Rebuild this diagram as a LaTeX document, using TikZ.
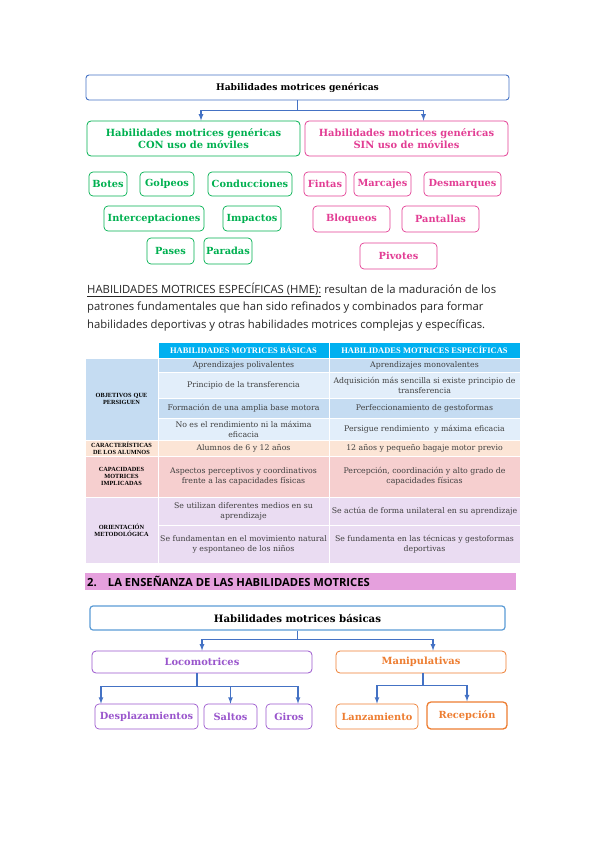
\documentclass[tikz,border=0pt]{standalone}
\usepackage{fontspec}
\setmainfont{Liberation Serif}
\setsansfont{Open Sans}
\newfontfamily\slabfont{DejaVu Serif}
\usepackage{tikz}
\usetikzlibrary{arrows}

\definecolor{linkblue}{RGB}{68,114,196}
\definecolor{frameblue}{RGB}{91,155,213}
\definecolor{congreen}{RGB}{0,176,80}
\definecolor{sinpink}{RGB}{226,62,148}
\definecolor{locopurple}{RGB}{153,85,204}
\definecolor{maniorange}{RGB}{237,125,49}
\definecolor{headcyan}{RGB}{0,176,240}
\definecolor{objdark}{RGB}{197,220,242}
\definecolor{objlight}{RGB}{226,238,250}
\definecolor{carpeach}{RGB}{252,229,214}
\definecolor{cappink}{RGB}{246,207,207}
\definecolor{orilav}{RGB}{234,220,242}
\definecolor{barpink}{RGB}{229,160,221}

\begin{document}
\begin{tikzpicture}[x=1pt, y=-1pt,
every node/.style={shape=rectangle, align=center, inner sep=0pt, color=black!85},
link/.style={draw=linkblue, line width=1.2pt, -latex},
topbox/.style={draw=linkblue, line width=0.9pt, rounded corners=3pt, text=black,
  font=\slabfont\bfseries\fontsize{9.2}{11}\selectfont},
halfbox/.style={draw=#1, line width=0.8pt, rounded corners=4pt, text=#1,
  font=\slabfont\bfseries\fontsize{9.9}{12}\selectfont},
smallbox/.style={draw=#1, line width=0.7pt, rounded corners=4pt, text=#1,
  font=\slabfont\bfseries\fontsize{9.8}{11}\selectfont},
prose/.style={anchor=west, text=black!85, font=\sffamily\fontsize{11.3}{13}\selectfont},
cell/.style={fill=#1, draw=white, line width=0.8pt, text=black!75,
  font=\slabfont\fontsize{7.8}{10}\selectfont},
rowhead/.style={fill=#1, draw=white, line width=0.8pt, text=black,
  font=\bfseries\fontsize{6.3}{7}\selectfont},
colhead/.style={fill=headcyan, draw=white, line width=0.8pt, text=white,
  font=\bfseries\fontsize{8.5}{9}\selectfont}]
\useasboundingbox (0,0) rectangle (599,848);
%
% genericas
\node[topbox, minimum width=423pt, minimum height=25pt] (gen) at (297.5,87.5) {Habilidades motrices genéricas};
\node[halfbox=congreen, minimum width=213pt, minimum height=35pt] (con) at (193.5,138.5) {Habilidades motrices genéricas\\CON uso de móviles};
\node[halfbox=sinpink, minimum width=203pt, minimum height=35pt] (sin) at (406.5,138.5) {Habilidades motrices genéricas\\SIN uso de móviles};
\draw[link] (gen.south) -- ++(0,10) -| ([xshift=7.5pt]con.north);
\draw[link] (gen.south) -- ++(0,10) -| ([xshift=17pt]sin.north);
%
\node[smallbox=congreen, minimum width=38pt, minimum height=24pt] (botes) at (108,184) {Botes};
\node[smallbox=congreen, minimum width=54pt, minimum height=24pt] (golpeos) at (167,184) {Golpeos};
\node[smallbox=congreen, minimum width=84pt, minimum height=24pt] (conducciones) at (250,184) {Conducciones};
\node[smallbox=congreen, minimum width=100pt, minimum height=25pt] (interceptaciones) at (154,218.5) {Interceptaciones};
\node[smallbox=congreen, minimum width=58pt, minimum height=25pt] (impactos) at (252,218.5) {Impactos};
\node[smallbox=congreen, minimum width=47pt, minimum height=26pt] (pases) at (170.5,251) {Pases};
\node[smallbox=congreen, minimum width=48pt, minimum height=26pt] (paradas) at (228,251) {Paradas};
%
\node[smallbox=sinpink, minimum width=42pt, minimum height=24pt] (fintas) at (325,184) {Fintas};
\node[smallbox=sinpink, minimum width=57pt, minimum height=24pt] (marcajes) at (382.5,184) {Marcajes};
\node[smallbox=sinpink, minimum width=77pt, minimum height=24pt] (desmarques) at (462.5,184) {Desmarques};
\node[smallbox=sinpink, minimum width=77pt, minimum height=26pt] (bloqueos) at (351.5,219) {Bloqueos};
\node[smallbox=sinpink, minimum width=77pt, minimum height=26pt] (pantallas) at (440.5,219) {Pantallas};
\node[smallbox=sinpink, minimum width=77pt, minimum height=26pt] (pivotes) at (398.5,256) {Pivotes};
%
% HME
\node[prose] (hme1) at (87,290) {\underline{HABILIDADES MOTRICES ESPECÍFICAS (HME):} resultan de la maduración de los};
\node[prose] (hme2) at (87,308) {patrones fundamentales que han sido refinados y combinados para formar};
\node[prose] (hme3) at (87,326) {habilidades deportivas y otras habilidades motrices complejas y específicas.};
%
% tabla
\node[colhead, minimum width=171pt, minimum height=16pt] (hbas) at (243.5,350) {HABILIDADES MOTRICES BÁSICAS};
\node[colhead, minimum width=191pt, minimum height=16pt] (hesp) at (424.5,350) {HABILIDADES MOTRICES ESPECÍFICAS};
%
\node[rowhead=objdark, minimum width=73pt, minimum height=82pt, text width=69pt] (obj) at (121.5,399) {OBJETIVOS QUE\\PERSIGUEN};
\node[cell=objdark, minimum width=171pt, minimum height=14pt] (obj1b) at (243.5,365) {Aprendizajes polivalentes};
\node[cell=objdark, minimum width=191pt, minimum height=14pt] (obj1e) at (424.5,365) {Aprendizajes monovalentes};
\node[cell=objlight, minimum width=171pt, minimum height=26pt] (obj2b) at (243.5,385) {Principio de la transferencia};
\node[cell=objlight, minimum width=191pt, minimum height=26pt] (obj2e) at (424.5,385) {Adquisición más sencilla si existe principio de\\transferencia};
\node[cell=objdark, minimum width=171pt, minimum height=20pt] (obj3b) at (243.5,408) {Formación de una amplia base motora};
\node[cell=objdark, minimum width=191pt, minimum height=20pt] (obj3e) at (424.5,408) {Perfeccionamiento de gestoformas};
\node[cell=objlight, minimum width=171pt, minimum height=22pt] (obj4b) at (243.5,429) {No es el rendimiento ni la máxima\\eficacia};
\node[cell=objlight, minimum width=191pt, minimum height=22pt] (obj4e) at (424.5,429) {Persigue rendimiento \ y máxima eficacia};
%
\node[rowhead=carpeach, minimum width=73pt, minimum height=16pt] (car) at (121.5,448) {CARACTERÍSTICAS\\DE LOS ALUMNOS};
\node[cell=carpeach, minimum width=171pt, minimum height=16pt] (carb) at (243.5,448) {Alumnos de 6 y 12 años};
\node[cell=carpeach, minimum width=191pt, minimum height=16pt] (care) at (424.5,448) {12 años y pequeño bagaje motor previo};
%
\node[rowhead=cappink, minimum width=73pt, minimum height=41pt] (cap) at (121.5,476.5) {CAPACIDADES\\MOTRICES\\IMPLICADAS};
\node[cell=cappink, minimum width=171pt, minimum height=41pt] (capb) at (243.5,476.5) {Aspectos perceptivos y coordinativos\\frente a las capacidades físicas};
\node[cell=cappink, minimum width=191pt, minimum height=41pt] (cape) at (424.5,476.5) {Percepción, coordinación y alto grado de\\capacidades físicas};
%
\node[rowhead=orilav, minimum width=73pt, minimum height=66pt] (ori) at (121.5,530) {ORIENTACIÓN\\METODOLÓGICA};
\node[cell=orilav, minimum width=171pt, minimum height=28pt] (ori1b) at (243.5,511) {Se utilizan diferentes medios en su\\aprendizaje};
\node[cell=orilav, minimum width=191pt, minimum height=28pt] (ori1e) at (424.5,511) {Se actúa de forma unilateral en su aprendizaje};
\node[cell=orilav, minimum width=171pt, minimum height=38pt] (ori2b) at (243.5,544) {Se fundamentan en el movimiento natural\\y espontaneo de los niños};
\node[cell=orilav, minimum width=191pt, minimum height=38pt] (ori2e) at (424.5,544) {Se fundamenta en las técnicas y gestoformas\\deportivas};
%
% apartado 2
\node[fill=barpink, minimum width=431pt, minimum height=17pt] (bar) at (300.5,581.5) {};
\node[anchor=west, text=black, font=\sffamily\bfseries\fontsize{11.2}{12}\selectfont] (bartext) at (87,581.5) {2.\quad LA ENSEÑANZA DE LAS HABILIDADES MOTRICES};
%
% basicas
\node[topbox, draw=frameblue, line width=1.2pt, minimum width=415pt, minimum height=24pt, font=\slabfont\bfseries\fontsize{10.2}{11}\selectfont] (bas) at (297.5,618) {Habilidades motrices básicas};
\node[halfbox=locopurple, minimum width=220pt, minimum height=22pt] (loco) at (202,662) {Locomotrices};
\node[halfbox=maniorange, minimum width=170pt, minimum height=22pt] (mani) at (421,662) {Manipulativas};
\draw[link] (bas.south) -- ++(0,9) -| (loco.north);
\draw[link] (bas.south) -- ++(0,9) -| ([xshift=12pt]mani.north);
%
\node[smallbox=locopurple, minimum width=103pt, minimum height=25pt] (desplazamientos) at (146.5,716.5) {Desplazamientos};
\node[smallbox=locopurple, minimum width=53pt, minimum height=25pt] (saltos) at (230.5,716.5) {Saltos};
\node[smallbox=locopurple, minimum width=46pt, minimum height=25pt] (giros) at (289,716.5) {Giros};
\node[smallbox=maniorange, minimum width=82pt, minimum height=25pt] (lanzamiento) at (377,716.5) {Lanzamiento};
\node[smallbox=maniorange, line width=1.3pt, minimum width=80pt, minimum height=27pt] (recepcion) at (467,715.5) {Recepción};
%
\draw[link] ([xshift=-5pt]loco.south) -- ++(0,13) -| ([xshift=-45.5pt]desplazamientos.north);
\draw[link] ([xshift=-5pt]loco.south) -- ++(0,13) -| (saltos.north);
\draw[link] ([xshift=-5pt]loco.south) -- ++(0,13) -| ([xshift=9pt]giros.north);
\draw[link] ([xshift=2pt]mani.south) -- ++(0,12) -| (lanzamiento.north);
\draw[link] ([xshift=2pt]mani.south) -- ++(0,12) -| (recepcion.north);
\end{tikzpicture}
\end{document}
